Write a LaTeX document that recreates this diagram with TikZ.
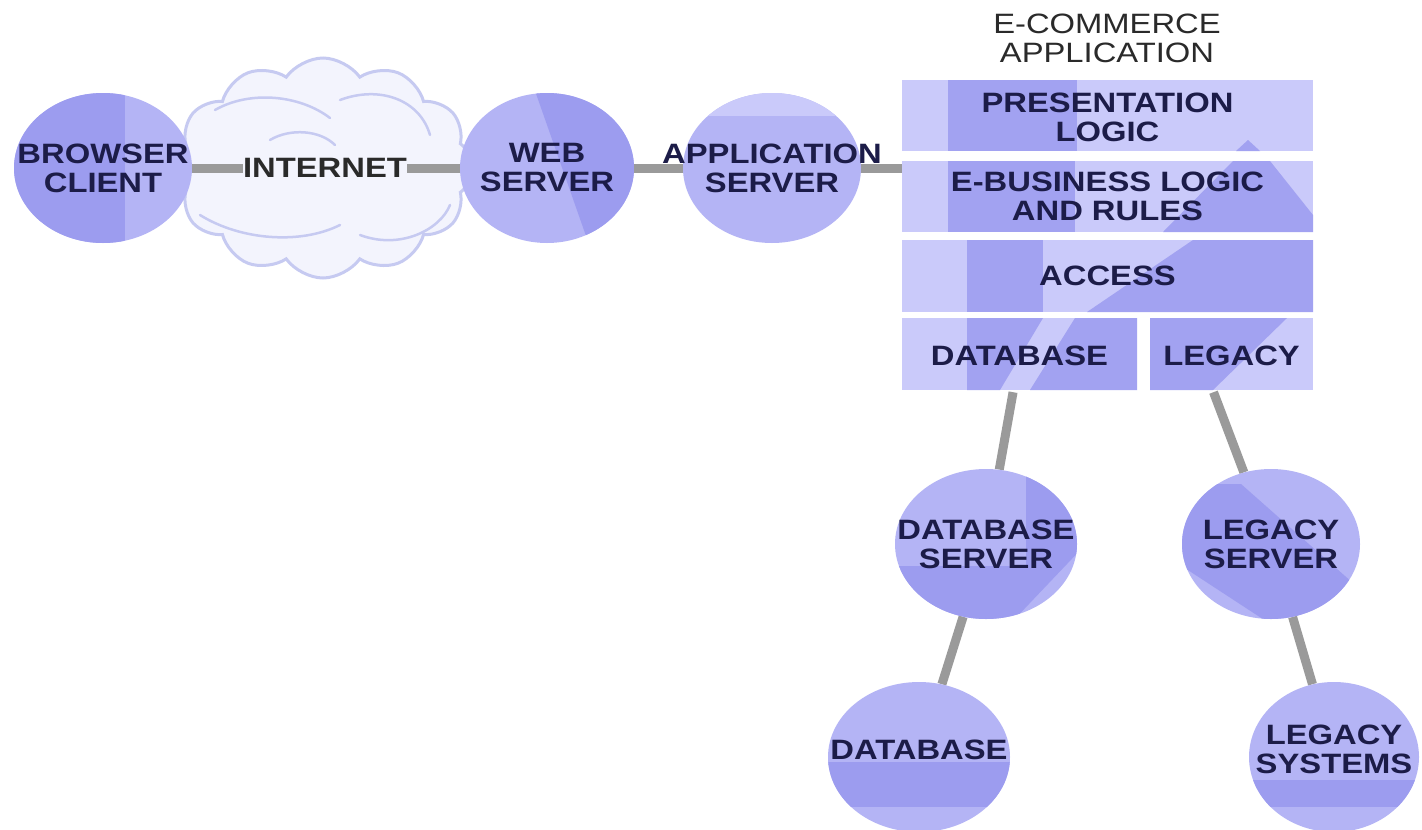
\documentclass[tikz,border=0pt]{standalone}
\usepackage{fontspec}
\setmainfont{Liberation Sans}[FakeStretch=1.17]
\usetikzlibrary{shapes.geometric,shapes.symbols,backgrounds}
\definecolor{cl}{HTML}{B4B4F5}
\definecolor{cd}{HTML}{9C9CEF}
\definecolor{sl}{HTML}{CACAFA}
\definecolor{sd}{HTML}{A2A2F1}
\definecolor{navy}{HTML}{1C1C48}
\definecolor{ink}{HTML}{2A2A2A}
\definecolor{wire}{HTML}{9A9A9A}
\definecolor{cloudfill}{HTML}{F3F4FD}
\definecolor{cloudline}{HTML}{C6CAF1}
\begin{document}
\begin{tikzpicture}[x=1pt,y=-1pt,
  txt/.style={font=\fontsize{28}{29}\selectfont, align=center, inner sep=0pt},
  srv/.style={ellipse, fill=cl, minimum width=178pt, minimum height=150pt, inner sep=0pt},
  lbl/.style={txt, text=navy, font=\fontsize{28}{29}\selectfont\bfseries},
  conn/.style={draw=wire, line width=9pt},
  boxlbl/.style={txt, text=navy, font=\fontsize{28}{29}\selectfont\bfseries, minimum height=71pt},
  cloudy/.style={cloud, cloud puffs=12, cloud puff arc=110, aspect=1.35,
    minimum width=300pt, minimum height=220pt, fill=cloudfill, draw=cloudline, line width=3pt},
  wisp/.style={draw=cloudline, line width=2.5pt, line cap=round},
  shade/.style={path picture={\begin{scope}[shift={(path picture bounding box.center)}]#1\end{scope}}},
]
\useasboundingbox (0,0) rectangle (1422,830);

% ---- circles ----
\node[srv, shade={\fill[cd] (-100,-100) rectangle (22,100);},
  label={[lbl]center:BROWSER\\CLIENT}] (browser) at (103,168) {};
\node[srv, minimum width=174pt, shade={\fill[cd] (-20,-100) -- (100,-100) -- (100,20) -- (45,85) -- cycle;},
  label={[lbl]center:WEB\\SERVER}] (web) at (547,168) {};
\node[srv, shade={\fill[sl] (-100,-100) rectangle (100,-52);},
  label={[lbl]center:APPLICATION\\SERVER}] (app) at (772,168) {};
\node[srv, minimum width=182pt, shade={\fill[cd] (-100,22) -- (40,22) -- (40,-75) -- (100,-75) -- (100,0) -- (5,100) -- (-100,100) -- cycle;},
  label={[lbl]center:DATABASE\\SERVER}] (dbsrv) at (986,544) {};
\node[srv, shade={\fill[cd] (-100,-60) -- (-30,-60) -- (100,55) -- (100,100) -- (30,100) -- (-100,15) -- cycle;},
  label={[lbl]center:LEGACY\\SERVER}] (legsrv) at (1271,544) {};
\node[srv, minimum width=182pt, shade={\fill[cd] (-100,5) rectangle (100,50);},
  label={[lbl,yshift=7pt]center:DATABASE}] (dbase) at (919,757) {};
\node[srv, minimum width=170pt, shade={\fill[cd] (-100,23) rectangle (100,50);},
  label={[lbl,yshift=8pt]center:LEGACY\\SYSTEMS}] (legsys) at (1334,757) {};

% ---- application stack ----
\fill[sl] (902,80) rectangle (1313,151);
\fill[sl] (902,161) rectangle (1313,232);
\fill[sl] (902,240) rectangle (1313,312);
\fill[sl] (902,318) rectangle (1137,390);
\fill[sl] (1150,318) rectangle (1313,390);
\fill[sd] (948,80) rectangle (1077,151);
\fill[sd] (1236,151) -- (1248,140) -- (1260,151) -- cycle;
\fill[sd] (948,161) rectangle (1075,232);
\fill[sd] (1163,232) -- (1233,161) -- (1270,161) -- (1313,215) -- (1313,232) -- cycle;
\fill[sd] (967,240) rectangle (1043,312);
\fill[sd] (1087,312) -- (1193,240) -- (1313,240) -- (1313,312) -- cycle;
\fill[sd] (967,318) -- (1043,318) -- (1000,390) -- (967,390) -- cycle;
\fill[sd] (1075,318) -- (1137,318) -- (1137,390) -- (1030,390) -- cycle;
\fill[sd] (1150,318) -- (1287,318) -- (1213,390) -- (1150,390) -- cycle;

\node[boxlbl, minimum width=411pt] (pres) at (1107.5,117) {PRESENTATION\\LOGIC};
\node[boxlbl, minimum width=411pt] (ebus) at (1107.5,196.5) {E-BUSINESS LOGIC\\AND RULES};
\node[boxlbl, minimum width=411pt] (acc) at (1107.5,276) {ACCESS};
\node[boxlbl, minimum width=235pt, minimum height=72pt] (dbbox) at (1019.5,356) {DATABASE};
\node[boxlbl, minimum width=163pt, minimum height=72pt] (legbox) at (1231.5,356) {LEGACY};
\node[txt, text=ink] (title) at (1107,38) {E-COMMERCE\\APPLICATION};

\node[txt, text=ink, font=\fontsize{28}{29}\selectfont\bfseries] (inet) at (325,168) {INTERNET};

% ---- background: cloud and wires ----
\begin{scope}[on background layer]
  \fill[white] (0,0) rectangle (1422,830);
  \node[cloudy] (cloud) at (323,168) {};
  \draw[wisp] (215,110) .. controls (250,90) and (300,95) .. (330,118);
  \draw[wisp] (340,100) .. controls (380,85) and (420,100) .. (430,135);
  \draw[wisp] (200,215) .. controls (240,240) and (300,245) .. (340,225);
  \draw[wisp] (360,235) .. controls (400,250) and (440,230) .. (450,205);
  \draw[wisp] (270,140) .. controls (290,128) and (320,130) .. (335,145);
  \draw[conn] (browser) -- (inet);
  \draw[conn] (inet) -- (web);
  \draw[conn] (web) -- (app);
  \draw[conn] (app) -- (app -| pres.west);
  \draw[conn] (dbbox) -- (dbsrv);
  \draw[conn] ([xshift=-18pt]legbox.south) -- (legsrv);
  \draw[conn] (dbsrv) -- (dbase);
  \draw[conn] (legsrv) -- (legsys);
\end{scope}
\end{tikzpicture}
\end{document}
